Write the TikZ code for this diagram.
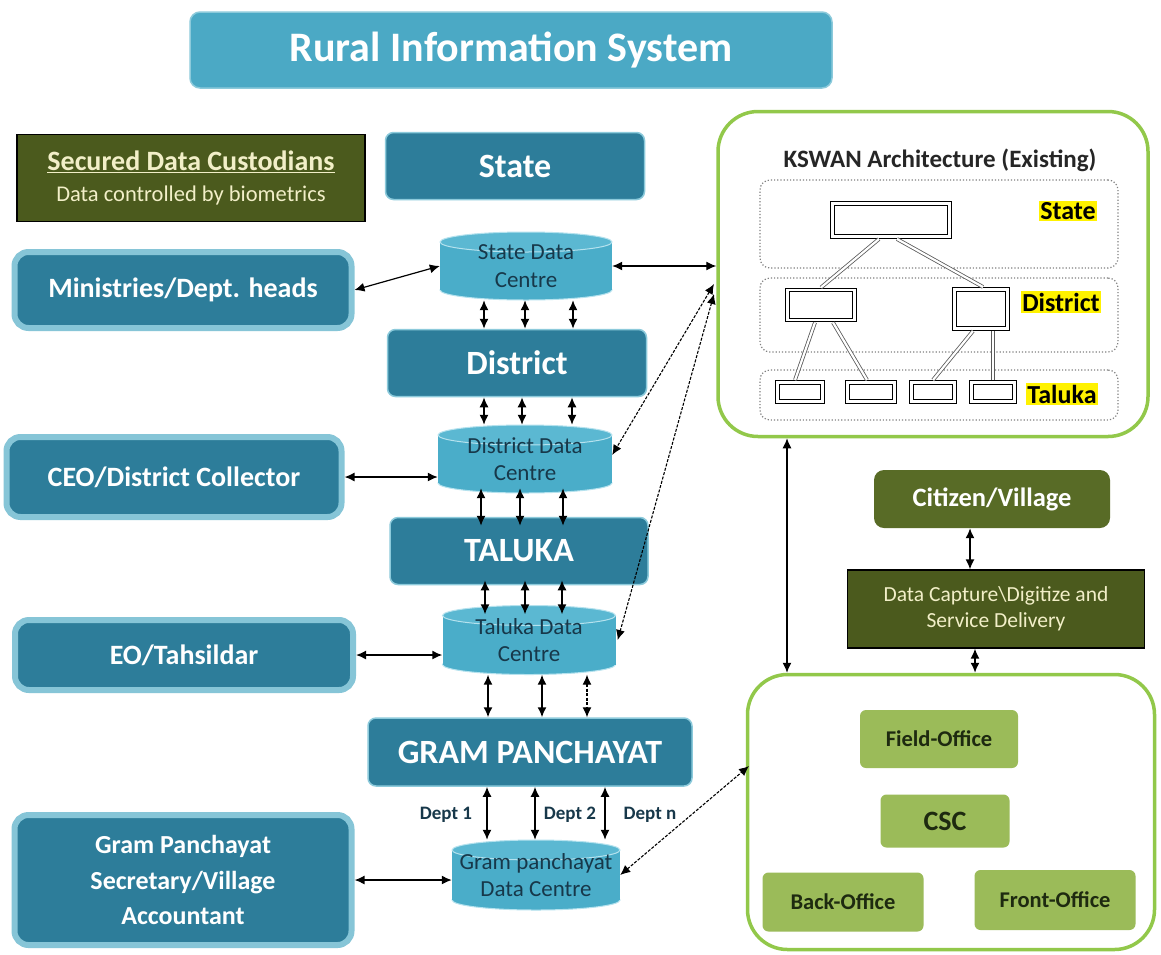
\documentclass[tikz,border=0pt]{standalone}
\usepackage{fontspec}
\setmainfont{Carlito}
\usetikzlibrary{arrows.meta,calc}
\definecolor{cTeal}{HTML}{2D7D9A}
\definecolor{cTealEdge}{HTML}{8CCADB}
\definecolor{cGlow}{HTML}{86C5D7}
\definecolor{cTitle}{HTML}{4BA9C5}
\definecolor{cCylBody}{HTML}{4AADC9}
\definecolor{cCylTop}{HTML}{5BB8D2}
\definecolor{cCylEdge}{HTML}{B5E2EE}
\definecolor{cCylText}{HTML}{17384A}
\definecolor{cOlive}{HTML}{4B5A1D}
\definecolor{cOliveB}{HTML}{586B26}
\definecolor{cCream}{HTML}{F2EFC8}
\definecolor{cFrame}{HTML}{92C84A}
\definecolor{cLeaf}{HTML}{9BBB59}
\definecolor{cLeafText}{HTML}{1E2A10}
\newcommand\fsz[1]{\fontsize{#1}{\dimexpr #1pt*6/5\relax}\selectfont}
\newcommand\cylnode[6]{%
  \fill[cCylBody, draw=cCylEdge, line width=1pt] (#2,{#3+#5/2-10}) ellipse[x radius={#4/2}, y radius=10];
  \fill[cCylBody] ({#2-#4/2},{#3-#5/2+10}) rectangle ({#2+#4/2},{#3+#5/2-10});
  \fill[cCylTop, draw=cCylEdge, line width=1pt] (#2,{#3-#5/2+10}) ellipse[x radius={#4/2}, y radius=10];
  \node[cyltext, minimum width=#4, minimum height=#5] (#1) at (#2,#3) {#6};
}
\begin{document}
\begin{tikzpicture}[x=1pt,y=-1pt,
  dbox/.style={fill=cTeal, draw=cTealEdge, line width=1.5pt, rounded corners=8pt, text=white, font=\bfseries\fsz{34}, inner sep=0pt, align=center},
  lbox/.style={fill=cTeal, draw=cGlow, line width=6pt, rounded corners=14pt, text=white, font=\bfseries\fsz{28}, inner sep=0pt, align=center},
  cyltext/.style={draw=none, text=cCylText, font=\fsz{23}, align=center, inner sep=0pt, text depth=0pt},
  frame/.style={draw=cFrame, line width=3.5pt, rounded corners=40pt, inner sep=0pt},
  band/.style={draw=gray, dotted, line width=1.2pt, rounded corners=10pt, inner sep=0pt},
  kbox/.style={draw=black, double=white, double distance=2.2pt, line width=1pt, inner sep=0pt},
  klink/.style={draw=gray!70!black, double=white, double distance=2.2pt, line width=0.8pt},
  klabel/.style={fill=yellow, text=black, font=\bfseries\fsz{26}, inner sep=1.5pt},
  leaf/.style={fill=cLeaf, rounded corners=6pt, text=cLeafText, font=\bfseries\fsz{22.5}, inner sep=0pt},
  dbl/.style={{Latex[length=10pt,width=9pt]}-{Latex[length=10pt,width=9pt]}, line width=1.5pt},
  ddash/.style={{Latex[length=10pt,width=9pt]}-{Latex[length=10pt,width=9pt]}, line width=1.1pt, dash pattern=on 3pt off 1.5pt},
  longer/.style={shorten <=-5pt, shorten >=-9pt},
  dept/.style={text=cCylText, font=\bfseries\fsz{19}, inner sep=0pt}
]
\useasboundingbox[fill=white] (0,0) rectangle (1161,954);

% title
\node[fill=cTitle, draw=cTealEdge, line width=1.5pt, rounded corners=10pt, minimum width=642, minimum height=76, text=white, font=\bfseries\fsz{42}] (title) at (511,50) {Rural Information System};

% secured data custodians
\node[fill=cOlive, draw=black, line width=1.5pt, minimum width=348, minimum height=87, text=cCream, align=center, inner sep=0pt, font=\fsz{22.5}] (secured) at (191,178)
  {{\bfseries\fsz{28}\underline{Secured Data Custodians}}\\[4pt]Data controlled by biometrics};

% hierarchy boxes
\node[dbox, minimum width=259, minimum height=67] (state) at (515,166) {State};
\node[dbox, minimum width=259, minimum height=67] (dist) at (517,363) {District};
\node[dbox, minimum width=258, minimum height=67] (taluka) at (519,551) {TALUKA};
\node[dbox, minimum width=324, minimum height=68] (gp) at (530,752) {GRAM PANCHAYAT};

% left boxes
\node[lbox, minimum width=337, minimum height=76] (minis) at (183,290) {Ministries/Dept. heads};
\node[lbox, minimum width=335, minimum height=80] (ceo) at (174,477) {CEO/District Collector};
\node[lbox, minimum width=338, minimum height=70] (eo) at (184,655) {EO/Tahsildar};
\node[lbox, minimum width=337, minimum height=130, font=\bfseries\fsz{26}] (gps) at (183,880) {Gram Panchayat\\[4pt]Secretary/Village\\[4pt]Accountant};

% cylinders
\cylnode{sdc}{526}{266}{172}{68}{State Data\\Centre}
\cylnode{ddc}{525}{459}{174}{68}{District Data\\Centre}
\cylnode{tdc}{529}{640}{173}{69}{Taluka Data\\Centre}
\cylnode{gpdc}{536}{875}{168}{70}{Gram panchayat\\Data Centre}

% KSWAN
\node[frame, minimum width=430, minimum height=325] (kswan) at (933,274) {};
\node[text=black!85, font=\bfseries\fsz{25}] (ktitle) at (940,160) {KSWAN Architecture (Existing)};
\node[band, minimum width=358, minimum height=88] (bandS) at (939,224) {};
\node[band, minimum width=358, minimum height=74] (bandD) at (939,315) {};
\node[band, minimum width=358, minimum height=50] (bandT) at (939,395) {};
\node[kbox, minimum width=117, minimum height=33] (kS) at (891,220) {};
\node[kbox, minimum width=67, minimum height=30] (kD1) at (821,305) {};
\node[kbox, minimum width=53, minimum height=39] (kD2) at (981,309) {};
\node[kbox, minimum width=45, minimum height=19] (kT1) at (800,392) {};
\node[kbox, minimum width=47, minimum height=19] (kT2) at (871,392) {};
\node[kbox, minimum width=43, minimum height=19] (kT3) at (933,392) {};
\node[kbox, minimum width=43, minimum height=19] (kT4) at (993,392) {};
\node[klabel] (lS) at (1068,211) {State};
\node[klabel] (lD) at (1061,302) {District};
\node[klabel] (lT) at (1062,394) {Taluka};
\draw[klink] ($(kS.south)+(-12,2)$) -- ($(kD1.north)+(0,-2)$);
\draw[klink] ($(kS.south)+(6,2)$) -- ($(kD2.north)+(2,-2)$);
\draw[klink] ($(kD1.south)+(-6,2)$) -- ($(kT1.north)+(-5,-2)$);
\draw[klink] ($(kD1.south)+(12,2)$) -- ($(kT2.north)+(-4,-2)$);
\draw[klink] ($(kD2.south)+(-8,2)$) -- ($(kT3.north)+(0,-2)$);
\draw[klink] ($(kD2.south)+(12,2)$) -- ($(kT4.north)+(0,-2)$);

% right lower part
\node[frame, minimum width=407, minimum height=275] (csc) at (951,812) {};
\node[fill=cOliveB, rounded corners=10pt, minimum width=236, minimum height=58, text=white, font=\bfseries\fsz{26.5}, inner sep=0pt] (citizen) at (992,499) {Citizen/Village};
\node[fill=cOlive, draw=black, line width=1.2pt, minimum width=297, minimum height=78, text=cCream, font=\fsz{21.5}, align=center, inner sep=0pt] (capture) at (996,609) {Data Capture\textbackslash Digitize and\\Service Delivery};
\node[leaf, minimum width=158, minimum height=58] (field) at (939,739) {Field-Office};
\node[leaf, minimum width=129, minimum height=53, font=\bfseries\fsz{28}] (cscbox) at (945,821) {CSC};
\node[leaf, minimum width=161, minimum height=59] (back) at (843,902) {Back-Office};
\node[leaf, minimum width=161, minimum height=60] (front) at (1055,900) {Front-Office};

% vertical arrows in the hierarchy
\foreach \x in {484,525,573} \draw[dbl] (sdc.south -| \x,0) -- (dist.north -| \x,0);
\foreach \x in {484,522,572} \draw[dbl] (dist.south -| \x,0) -- (ddc.north -| \x,0);
\foreach \x in {481,520,563} \draw[dbl, longer] (ddc.south -| \x,0) -- (taluka.north -| \x,0);
\foreach \x in {485,525,562} \draw[dbl, longer] (taluka.south -| \x,0) -- (tdc.north -| \x,0);
\foreach \x in {488,542} \draw[dbl] (tdc.south -| \x,0) -- (gp.north -| \x,0);
\draw[ddash] (tdc.south -| 587,0) -- (gp.north -| 587,0);
\foreach \x in {487,535,605} \draw[dbl] (gp.south -| \x,0) -- (gpdc.north -| \x,0);
\node[dept] (d1) at (446,815) {Dept 1};
\node[dept] (d2) at (570,815) {Dept 2};
\node[dept] (dn) at (650,815) {Dept n};

% horizontal arrows to left boxes
\draw[dbl, line width=1.2pt] (minis.east) -- (sdc.west);
\draw[dbl] (ceo.east) -- (ddc.west |- ceo.east);
\draw[dbl] (eo.east) -- (tdc.west |- eo.east);
\draw[dbl] (gps.east) -- (gpdc.west |- gps.east);

% links to KSWAN
\coordinate (kA) at (714,284);
\coordinate (kB) at (714,294);
\coordinate (cA) at (749,766);
\draw[dbl, line width=1.2pt] (sdc.east) -- (kswan.west |- sdc.east);
\draw[ddash] (kA) -- ($(ddc.east)+(0,-4)$);
\draw[ddash] (kB) -- ($(tdc.east)+(2,0)$);
\draw[ddash] (gpdc.east) -- (cA);
\draw[dbl, line width=1.2pt] (kswan.south -| 787,0) -- (csc.north -| 787,0);
\draw[dbl] (citizen.south -| 970,0) -- (capture.north -| 970,0);
\draw[dbl] (capture.south -| 975,0) -- (csc.north -| 975,0);
\end{tikzpicture}
\end{document}
